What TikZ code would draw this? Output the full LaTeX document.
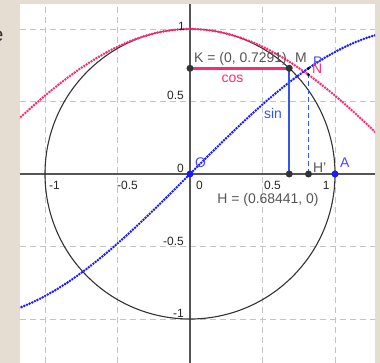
\documentclass[tikz,border=0pt]{standalone}
\usepackage{fontspec}
\setmainfont{Liberation Sans}
\definecolor{beige}{HTML}{E5DDD2}
\definecolor{gridc}{HTML}{C4C4C4}
\definecolor{axisc}{HTML}{555555}
\definecolor{pinkc}{HTML}{FF2A6E}
\definecolor{bluec}{HTML}{1A1AFF}
\definecolor{sinc}{HTML}{3355EE}
\definecolor{ptc}{HTML}{333333}
\definecolor{lblc}{HTML}{555555}
\tikzset{
  gridline/.style={gridc, line width=0.8bp, dash pattern=on 6bp off 4bp},
  axisline/.style={axisc, line width=1.3bp},
  dotcurve/.style={line width=2.8bp, line cap=round, dash pattern=on 0bp off 2.9bp},
  axlbl/.style={inner sep=0, font=\fontsize{12}{12}\selectfont, text=black!85},
  ptlbl/.style={inner sep=0, font=\fontsize{14}{14}\selectfont},
  bigdot/.style={circle, fill=ptc, inner sep=0, minimum size=7bp},
  bluedot/.style={circle, fill=bluec, inner sep=0, minimum size=7bp},
  smalldot/.style={circle, fill=black, inner sep=0, minimum size=3bp},
}
\begin{document}
\begin{tikzpicture}[x=145bp, y=145bp]
\useasboundingbox (-1.3103,-1.3034) rectangle (1.3103,1.2);
\fill[beige] (-1.3103,-1.3034) rectangle (1.3103,1.2);
\node[anchor=base east, inner sep=0, font=\fontsize{20}{20}\selectfont, text=ptc] (e) at (-1.285,0.917) {e};
\fill[white] (-1.1724,-1.3034) rectangle (1.2759,1.1724);
\begin{scope}
\clip (-1.1724,-1.3034) rectangle (1.2759,1.1724);
\foreach \v in {-1,-0.5,0.5,1} {
  \draw[gridline] (\v,-1.3034) -- (\v,1.1724);
  \draw[gridline] (-1.1724,\v) -- (1.2759,\v);
}
\draw[axisline] (-1.1724,0) -- (1.2759,0);
\draw[axisline] (0,-1.3034) -- (0,1.1724);
\draw[ptc, line width=1.1bp] (0,0) circle[radius=1];
\draw[dotcurve, pinkc] plot[domain=-1.18:1.28, samples=120, smooth] (\x,{cos(\x r)});
\draw[dotcurve, bluec] plot[domain=-1.18:1.28, samples=120, smooth] (\x,{sin(\x r)});
\end{scope}
% axis labels
\node[axlbl, anchor=base west] (xm1) at (-0.9724,-0.1103) {-1};
\node[axlbl, anchor=base west] (xm05) at (-0.5034,-0.1103) {-0.5};
\node[axlbl, anchor=base west] (x0) at (0.0414,-0.1103) {0};
\node[axlbl, anchor=base west] (x05) at (0.5103,-0.1103) {0.5};
\node[axlbl, anchor=base west] (x1) at (0.9152,-0.1103) {1};
\node[axlbl, anchor=base east] (y1) at (-0.0345,0.9862) {1};
\node[axlbl, anchor=base east] (y05) at (-0.0414,0.5172) {0.5};
\node[axlbl, anchor=base east] (y0) at (-0.0414,0.0138) {0};
\node[axlbl, anchor=base east] (ym05) at (-0.0414,-0.4897) {-0.5};
\node[axlbl, anchor=base east] (ym1) at (-0.0414,-0.9862) {-1};
% points
\coordinate (O) at (0,0);
\coordinate (A) at (1,0);
\coordinate (H) at (0.68441,0);
\coordinate (M) at (0.68441,0.7291);
\coordinate (K) at (0,0.7291);
\coordinate (Hp) at (0.8171,0);
\coordinate (P) at (0.8171,0.7291);
\coordinate (N) at (0.8171,0.6844);
\draw[pinkc, line width=2.6bp] (K) -- (M);
\draw[sinc, line width=2bp] (H) -- (M);
\draw[sinc, line width=1.4bp, dash pattern=on 5bp off 3bp] (Hp) -- (P);
\node[smalldot] (Pd) at (P) {};
\node[smalldot] (Nd) at (N) {};
\node[bigdot] (Kd) at (K) {};
\node[bigdot] (Md) at (M) {};
\node[bigdot] (Hd) at (H) {};
\node[bigdot] (Hpd) at (Hp) {};
\node[bluedot] (Od) at (O) {};
\node[bluedot] (Ad) at (A) {};
% labels
\node[ptlbl, anchor=base west, text=lblc] (Kl) at (0.0276,0.7655) {K = (0, 0.7291)};
\node[ptlbl, anchor=base west, text=lblc] (Ml) at (0.724,0.7655) {M};
\node[ptlbl, anchor=base, text=pinkc] (cosl) at (0.293,0.634) {cos};
\node[ptlbl, anchor=base, text=sinc] (sinl) at (0.572,0.386) {sin};
\node[ptlbl, anchor=base, text=lblc] (Hl) at (0.538,-0.2) {H = (0.68441, 0)};
\node[ptlbl, anchor=base west, text=lblc] (Hpl) at (0.848,0.0138) {H'};
\node[ptlbl, anchor=base west, text=bluec!80!white] (Al) at (1.034,0.048) {A};
\node[ptlbl, anchor=base west, text=bluec!80!white] (Ol) at (0.034,0.048) {O};
\node[ptlbl, anchor=base west, text=bluec!80!white] (Pl) at (0.848,0.738) {P};
\node[ptlbl, anchor=base west, text=pinkc] (Nl) at (0.841,0.690) {N};
\end{tikzpicture}
\end{document}
